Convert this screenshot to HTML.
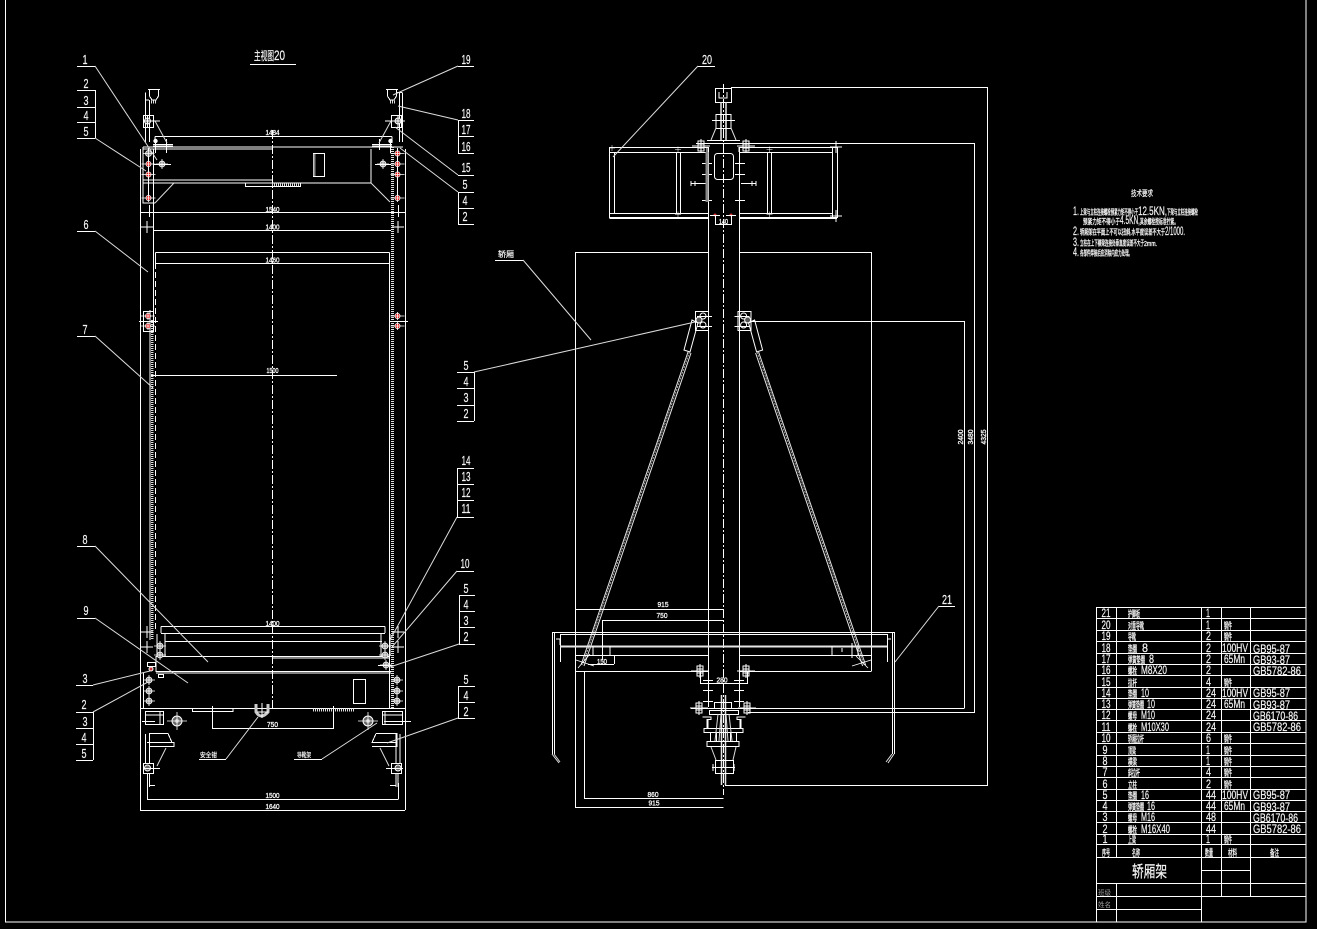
<!DOCTYPE html>
<html><head><meta charset="utf-8"><style>
html,body{margin:0;padding:0;background:#000}
svg{display:block}
text{font-family:"Liberation Sans","Noto Sans CJK SC",sans-serif;fill:#f4f4f4;stroke:#f4f4f4;stroke-width:.22}
.l{stroke:#fff;stroke-width:1;fill:none;shape-rendering:crispEdges}
.d{stroke:#dcdcdc;stroke-width:1;fill:none}
.t{stroke:#e6e6e6;stroke-width:2;fill:none}
.h{stroke:#e0e0e0;stroke-width:3;fill:none;stroke-dasharray:1 1;shape-rendering:crispEdges}
.c{stroke:#fff;stroke-width:1;fill:none;stroke-dasharray:9 2 2 2;shape-rendering:crispEdges}
.n{font-size:13px;text-anchor:middle}
.s{font-size:7.5px;text-anchor:middle;stroke-width:.35}
.z{font-size:7.5px;stroke-width:.35}
.r{font-size:12px}
.m{font-size:12px;text-anchor:middle}
.k{font-size:9px;stroke-width:.35}
</style></head><body>
<svg width="1317" height="929" viewBox="0 0 1317 929" xmlns="http://www.w3.org/2000/svg">
<defs>
<g id="b"><circle r="3" fill="#888" stroke="#fff" stroke-width=".8"/><path d="M-6 0H6M0-5V5" stroke="#fff" stroke-width=".8"/></g>
<g id="rb"><circle r="2.6" fill="#e01010" stroke="#fff" stroke-width=".7"/><path d="M-7 0H7M0-4V4" stroke="#fff" stroke-width=".8"/></g>
<g id="w"><circle r="5" fill="#666" stroke="#fff"/><circle r="2" fill="#bbb"/><path d="M-10 0H10M0-9V9" stroke="#fff" stroke-width=".8"/></g>
<path id="x" d="M-6 0H6M0-6V6" stroke="#fff" stroke-width="1"/>
<g id="bv"><rect x="-3" y="-5" width="6" height="10" fill="none" stroke="#fff"/><path d="M-9 0H9M-3-2H3M-3 2H3M0-7V7" stroke="#fff" stroke-width="1"/></g>
</defs>
<rect width="1317" height="929" fill="#000"/>

<!-- outer frame -->
<path class="l" d="M5.5 0V922H1306V0" style="stroke-width:1.2"/>

<!-- ===== left view ===== -->
<path class="l" d="M140.5 149V810M405.5 149V810M153.5 149V320M389.5 263V708"/>
<path class="l" d="M143 147H403M143 149H272M143 180H272M143 183H371M143 147V203H155M371 149V183"/>
<path class="l" d="M155 136.5H392M155 136.5V143M392 136.5V143"/>
<path class="l" d="M140 212.5H405M153 230.5H391"/>
<path class="l" d="M155.500 252.500H389.500M155.500 252.500V263.500M389.500 252.500V263.500M155.500 263.500H389.500"/>
<path class="c" d="M272.500 130V708"/>
<path class="c" d="M155.500 263V632" style="stroke-dasharray:6 3"/>
<rect class="l" x="313.500" y="153.500" width="11" height="23"/>
<path class="t" d="M314.500 154V176" style="stroke:#888"/>
<path class="l" d="M245.500 182.500V186.500H300.500V183"/>
<path class="h" d="M272 184.500H300"/>
<path class="h" d="M392.500 147V708"/>
<path class="h" d="M152 320V640" style="stroke-width:2.500"/>
<path class="l" d="M150 310V640"/>
<path class="d" d="M155 203L174 183M371 183L390 202"/>

<!-- top left bracket -->
<path class="l" d="M148 89.500H160M149.500 89.500V96L152 100H156L158.500 96V89.500M145.500 92.500V100H149M145.500 100V142M149.500 100V142"/>
<path class="h" d="M151 102H157" />
<rect class="l" x="143.500" y="115.500" width="10" height="12"/>
<circle cx="147.500" cy="121" r="3" fill="#666" stroke="#fff"/>
<path class="l" d="M143 121H160M147.500 115V127M153 144.500H173M153 146H173M155.500 141V153M166.500 139V153"/>
<circle cx="155.500" cy="141" r="2.200" fill="#fff"/>
<path class="d" d="M155 121L167 143"/>
<!-- top right bracket -->
<path class="l" d="M386 89.500H398M387.500 89.500V96L390 100H394L396.500 96V89.500M402 92.500H396M399.500 92.500V142M402.500 92.500V142"/>
<path class="h" d="M390 102H396"/>
<rect class="l" x="391.500" y="115.500" width="10" height="12"/>
<circle cx="398" cy="121" r="3" fill="#666" stroke="#fff"/>
<path class="l" d="M385 121H405M398 115V127M372 144.500H392M372 146H392M379.500 139V150M390.500 141V153"/>
<circle cx="390.500" cy="141" r="2.200" fill="#fff"/>
<path class="d" d="M391 121L379 143"/>
<!-- upper bolts -->
<path class="l" d="M148.500 148V200"/>
<use href="#b" x="148.500" y="153.500"/>
<use href="#rb" x="148.500" y="164"/><use href="#rb" x="148.500" y="174.500"/><use href="#rb" x="148.500" y="198"/>
<use href="#b" x="162" y="164"/><path class="l" d="M153 164.500H171"/>
<use href="#b" x="383" y="164"/><path class="l" d="M375 164.500H391"/>
<path class="l" d="M397.500 148V200"/>
<use href="#rb" x="397.500" y="153.500"/><use href="#rb" x="397.500" y="164"/><use href="#rb" x="397.500" y="174.500"/><use href="#rb" x="397.500" y="198"/>
<path class="l" d="M149.500 205V217M398.500 205V217"/>
<use href="#x" x="147" y="227"/><use href="#x" x="398" y="227"/>
<!-- mid bolts -->
<rect class="l" x="143.500" y="311.500" width="10" height="20"/>
<path class="l" d="M139 321.500H158M390 321.500H408M151 375.500H337"/>
<use href="#rb" x="148" y="316"/><use href="#rb" x="148" y="326"/>
<use href="#rb" x="397.500" y="316"/><use href="#rb" x="397.500" y="326"/>

<!-- lower car beams -->
<path class="l" d="M161 626.500H385M161 626.500V633M385 626.500V633M161 633.500H385M165 641.500H382M157 634V656M165 634V656M381 634V656M390 634V656"/>
<path class="l" d="M156 656.500H390M272 658H390M156 671.500H391M156 673H391M156 656V672"/>
<path class="l" d="M140 708.500H405M143.500 673V708"/>
<rect class="l" x="353.500" y="679.500" width="12" height="24"/>
<path class="l" d="M192.500 708V711.500H233V708"/>
<path class="h" d="M313 710H354"/>
<path class="l" d="M212.500 706V728.500H333.500V706"/>
<use href="#b" x="160" y="646"/><use href="#b" x="160" y="655"/><use href="#b" x="385" y="646"/><use href="#b" x="385" y="655"/>
<use href="#x" x="147" y="632"/><use href="#x" x="147" y="647"/><use href="#x" x="398" y="632"/><use href="#x" x="398" y="647"/>
<rect class="l" x="147.500" y="662.500" width="8" height="4"/>
<rect class="l" x="158.500" y="674.500" width="5" height="3"/>
<circle cx="151" cy="669" r="2" fill="#c33" stroke="#fff"/>
<use href="#b" x="386" y="665"/>
<path class="l" d="M378 665.500H394"/>
<use href="#b" x="149" y="680"/><use href="#b" x="149" y="691"/><use href="#b" x="149" y="701"/>
<use href="#b" x="397" y="680"/><use href="#b" x="397" y="691"/><use href="#b" x="397" y="701"/>
<!-- center U -->
<path d="M256 704V712Q261 720 268 712V704" fill="none" stroke="#ccc" stroke-width="3"/>
<path class="l" d="M262 703V718M257 712H268"/>
<use href="#w" x="177" y="721"/><use href="#w" x="368" y="721"/>
<!-- lower brackets -->
<path class="l" d="M145.500 711.500H163.500V724.500H145.500ZM145 715H163M160 712V724M382.500 711.500H402.500V724.500H382.500ZM382 715H402M385 712V724"/>
<path class="l" d="M142 721.500H155M384 721.500H411"/>
<path class="l" d="M145.500 734V763M149.500 734V763M149 733.500H168L172 742.500H149M147 742.500H174V746.500H149M396 734V763M400 734V763M376 733.500H397V742.500H372L376 733.500M372 742.500H397V746.500H372"/>
<rect class="l" x="143.500" y="763.500" width="10" height="10"/>
<rect class="l" x="391.500" y="763.500" width="10" height="10"/>
<circle cx="147.500" cy="768" r="3" fill="#666" stroke="#fff"/><circle cx="398" cy="768" r="3" fill="#666" stroke="#fff"/>
<path class="l" d="M143 768.500H160M386 768.500H403M147.500 773V787M149.500 773V787M149 785.500H155M396 773V787M398 773V787M390 785.500H396"/>
<path class="d" d="M166 748L157 766M380 748L389 766"/>
<path class="l" d="M147.500 783V799.500M398.500 783V799.500M147 799.500H398M140 810.500H405"/>

<!-- left view text -->
<text x="254" y="60" font-size="12" textLength="20" lengthAdjust="spacingAndGlyphs">主视图</text>
<text x="274" y="60" font-size="14" textLength="11" lengthAdjust="spacingAndGlyphs">20</text>
<path class="l" d="M250 64.500H296"/>
<text class="s" x="272.500" y="135" textLength="14" lengthAdjust="spacingAndGlyphs">1484</text>
<text class="s" x="272.500" y="212" textLength="14" lengthAdjust="spacingAndGlyphs">1540</text>
<text class="s" x="272.500" y="229.500" textLength="14" lengthAdjust="spacingAndGlyphs">1400</text>
<text class="s" x="272.500" y="262.500" textLength="14" lengthAdjust="spacingAndGlyphs">1460</text>
<text class="s" x="272.500" y="373" textLength="12" lengthAdjust="spacingAndGlyphs">1500</text>
<text class="s" x="272.500" y="626" textLength="14" lengthAdjust="spacingAndGlyphs">1400</text>
<text class="s" x="272.500" y="727" textLength="11" lengthAdjust="spacingAndGlyphs">750</text>
<text class="s" x="272.500" y="798" textLength="14" lengthAdjust="spacingAndGlyphs">1500</text>
<text class="s" x="272.500" y="809" textLength="14" lengthAdjust="spacingAndGlyphs">1640</text>
<text x="200" y="757" font-size="6.500" textLength="17" lengthAdjust="spacingAndGlyphs">安全钳</text>
<text x="297" y="757" font-size="6.500" textLength="14" lengthAdjust="spacingAndGlyphs">导靴架</text>

<!-- left leaders -->
<path class="l" d="M77 66.500H95M77 90.500H95M77 107.500H95M77 122.500H95M77 138.500H95M95.500 90V138M77 231.500H95M77 336.500H95M77 546.500H95M77 618.500H95M76 685.500H93M76 712.500H93M76 728.500H93M76 744.500H93M76 760.500H93M93.500 712V760"/>
<path class="d" d="M95 66L157 160M95 138L146 171M95 231L148 272M95 336L153 388M95 546L208 662M95 618L188 683M93 685L150 671M93 712L148 682"/>
<text class="n" x="85" y="64" textLength="5" lengthAdjust="spacingAndGlyphs">1</text>
<text class="n" x="86" y="88" textLength="5" lengthAdjust="spacingAndGlyphs">2</text>
<text class="n" x="86" y="105" textLength="5" lengthAdjust="spacingAndGlyphs">3</text>
<text class="n" x="86" y="120" textLength="5" lengthAdjust="spacingAndGlyphs">4</text>
<text class="n" x="86" y="136" textLength="5" lengthAdjust="spacingAndGlyphs">5</text>
<text class="n" x="86" y="229" textLength="5" lengthAdjust="spacingAndGlyphs">6</text>
<text class="n" x="85" y="334" textLength="5" lengthAdjust="spacingAndGlyphs">7</text>
<text class="n" x="85" y="544" textLength="5" lengthAdjust="spacingAndGlyphs">8</text>
<text class="n" x="86" y="615" textLength="5" lengthAdjust="spacingAndGlyphs">9</text>
<text class="n" x="85" y="683" textLength="5" lengthAdjust="spacingAndGlyphs">3</text>
<text class="n" x="84" y="709" textLength="5" lengthAdjust="spacingAndGlyphs">2</text>
<text class="n" x="85" y="726" textLength="5" lengthAdjust="spacingAndGlyphs">3</text>
<text class="n" x="84" y="742" textLength="5" lengthAdjust="spacingAndGlyphs">4</text>
<text class="n" x="84" y="758" textLength="5" lengthAdjust="spacingAndGlyphs">5</text>

<!-- right leaders of left view -->
<path class="l" d="M458 66.500H474M458 120.500H474M458 136.500H474M458 153.500H474M458.500 120V153M458 175.500H474M458 192.500H474M458 208.500H474M458 224.500H474M458.500 192V224"/>
<path class="l" d="M457 468.500H474M457 484.500H474M457 500.500H474M457 517.500H474M457.500 468V517M457 571.500H474M459 595.500H475M459 611.500H475M459 627.500H475M459 644.500H475M459.500 595V644M458 686.500H475M458 702.500H475M458 718.500H475M458.500 686V718"/>
<path class="d" d="M458 66L393 95M458 120L398 106M458 175L395 127M458 192L400 148M457 517L390 640M457 571L392 647M459 644L390 667M458 718L387 743"/>
<text class="n" x="466" y="64" textLength="9" lengthAdjust="spacingAndGlyphs">19</text>
<text class="n" x="466" y="118" textLength="9" lengthAdjust="spacingAndGlyphs">18</text>
<text class="n" x="466" y="134" textLength="9" lengthAdjust="spacingAndGlyphs">17</text>
<text class="n" x="466" y="151" textLength="9" lengthAdjust="spacingAndGlyphs">16</text>
<text class="n" x="466" y="172" textLength="9" lengthAdjust="spacingAndGlyphs">15</text>
<text class="n" x="465" y="189" textLength="5" lengthAdjust="spacingAndGlyphs">5</text>
<text class="n" x="465" y="205" textLength="5" lengthAdjust="spacingAndGlyphs">4</text>
<text class="n" x="465" y="221" textLength="5" lengthAdjust="spacingAndGlyphs">2</text>
<text class="n" x="466" y="465" textLength="9" lengthAdjust="spacingAndGlyphs">14</text>
<text class="n" x="466" y="481" textLength="9" lengthAdjust="spacingAndGlyphs">13</text>
<text class="n" x="466" y="497" textLength="9" lengthAdjust="spacingAndGlyphs">12</text>
<text class="n" x="466" y="513" textLength="9" lengthAdjust="spacingAndGlyphs">11</text>
<text class="n" x="465" y="568" textLength="9" lengthAdjust="spacingAndGlyphs">10</text>
<text class="n" x="466" y="593" textLength="5" lengthAdjust="spacingAndGlyphs">5</text>
<text class="n" x="466" y="609" textLength="5" lengthAdjust="spacingAndGlyphs">4</text>
<text class="n" x="466" y="625" textLength="5" lengthAdjust="spacingAndGlyphs">3</text>
<text class="n" x="466" y="641" textLength="5" lengthAdjust="spacingAndGlyphs">2</text>
<text class="n" x="466" y="684" textLength="5" lengthAdjust="spacingAndGlyphs">5</text>
<text class="n" x="466" y="700" textLength="5" lengthAdjust="spacingAndGlyphs">4</text>
<text class="n" x="466" y="716" textLength="5" lengthAdjust="spacingAndGlyphs">2</text>

<!-- leaders under the centre labels -->
<path class="l" d="M199 759.500H226M294 759.500H322"/>
<path class="d" d="M226 759L258 717M322 759L377 723"/>

<!-- ===== right view ===== -->
<path class="l" d="M708.500 147V707M739.500 147V707M715.500 88.500H731.500V102.500H715.500ZM731 87.500H987.500V785"/>
<path class="c" d="M723.500 84V795"/>
<path class="t" d="M721 102V140M726 102V140" style="stroke-width:1.500"/>
<path class="l" d="M719 92V98H727V92M716 114.500H731V128.500H716ZM712 120.500H735M721 114V128M726 114V128"/>
<path class="d" d="M716 128L711 140M731 128L736 140"/>
<path class="l" d="M707 140.500H740M696 143.500H751M751 143.500H974.500V712M707 147V152M739 147V152"/>
<path class="l" d="M609.500 147.500H708M739 147.500H837M609.500 152.500H708M739 152.500H832M609.500 213.500H708M739 213.500H832M609.500 218.500H708M739 218.500H837M609.500 217.500H708M739 217.500H837M609.500 147V218M614.500 152V213M676.500 152V213M680.500 152V213M767.500 152V213M771.500 152V213M832.500 147V218M837.500 147V218"/>
<use href="#x" x="612" y="148" transform="translate(306 74) scale(.5)"/><use href="#x" x="836" y="147"/><use href="#x" x="836" y="216"/>
<use href="#x" x="678" y="149" transform="translate(339 75) scale(.5)"/><use href="#x" x="678" y="215" transform="translate(339 107) scale(.5)"/>
<use href="#x" x="769" y="149" transform="translate(385 75) scale(.5)"/><use href="#x" x="769" y="215" transform="translate(385 107) scale(.5)"/>
<use href="#bv" x="701" y="146"/><use href="#bv" x="746" y="146"/>
<rect x="714.500" y="153.500" width="19" height="26" rx="3" fill="none" stroke="#fff"/>
<path class="l" d="M691 183.500H707M741 183.500H756M691 181V186M695 181V186M752 181V186M756 181V186M702 163.500H712M702 174.500H712M702 200.500H712M735 163.500H745M735 174.500H745M735 200.500H745"/>
<path class="t" d="M707 152V202" style="stroke:#888;stroke-width:3"/>
<circle cx="715" cy="215" r="1.500" fill="#d33"/><circle cx="731" cy="215" r="1.500" fill="#d33"/>
<path class="l" d="M710 215.500H720M726 215.500H736M715.500 215V224.500H731.500V215"/>
<text class="s" x="723.500" y="224" textLength="9" lengthAdjust="spacingAndGlyphs">140</text>

<!-- car outline -->
<path class="l" d="M575.500 807V252.500H708M739 252.500H871.500V671"/>
<!-- brackets and rods -->
<g id="rod">
<rect class="l" x="695.500" y="311.500" width="13" height="19"/>
<path class="l" d="M697 316.500H712M697 326.500H712"/>
<circle cx="703" cy="316" r="3" fill="none" stroke="#fff"/><circle cx="703" cy="325" r="3" fill="none" stroke="#fff"/>
<circle cx="699" cy="320" r="3" fill="#555" stroke="#fff"/>
<path d="M692 320L698 323L690 352L684 350Z" fill="none" stroke="#fff"/>
<path d="M688 352L581 665M691 353L584 666" stroke="#e6e6e6" stroke-width="1" fill="none"/>
<path d="M689.500 352L582.500 665" stroke="#aaa" stroke-width="1" stroke-dasharray="2 1" fill="none"/>
</g>
<g transform="translate(1446.600 0) scale(-1 1)">
<rect class="l" x="695.500" y="311.500" width="13" height="19"/>
<path class="l" d="M697 316.500H712M697 326.500H712"/>
<circle cx="703" cy="316" r="3" fill="none" stroke="#fff"/><circle cx="703" cy="325" r="3" fill="none" stroke="#fff"/>
<circle cx="699" cy="320" r="3" fill="#555" stroke="#fff"/>
<path d="M692 320L698 323L690 352L684 350Z" fill="none" stroke="#fff"/>
<path d="M688 352L581 665M691 353L584 666" stroke="#e6e6e6" stroke-width="1" fill="none"/>
<path d="M689.500 352L582.500 665" stroke="#aaa" stroke-width="1" stroke-dasharray="2 1" fill="none"/>
</g>
<path class="l" d="M751 321.500H964.500V708"/>

<!-- floor beam -->
<path class="l" d="M552 632.500H894M560 634.500H887M552.500 632V754M554.500 632V754M892.500 632V754M894.500 632V754M560.500 634V662M887.500 634V662M556 639H560V645M887 639H891"/>
<path class="d" d="M552 754L559 763M554 754L560 762M894 754L888 763M892 754L886 762"/>
<path class="t" d="M560 646.500H887"/>
<path class="l" d="M575.500 655.500H708M739 655.500H871.500M575.500 671.500H708M739 671.500H871.500M575.500 655V671"/>
<path class="l" d="M575 609.500H723.500M602.500 620.500H723.500M602.500 620V660M588 664.500H614M614.500 655V664M593 646V655M610 646V655M832 646V655M852 643V658M858 646V655M842 648V652"/>
<path class="l" d="M584.500 671V798.500H723.500M575 807.500H723.500"/>
<path class="l" d="M700.500 671V683.500H747.500V671"/>
<path class="l" d="M703 680.500H713M734 680.500H744M703 690.500H713M734 690.500H744M703 701.500H713M734 701.500H744"/>
<g stroke="#fff" fill="none"><path d="M576 660L594 666M590 654L578 668" stroke-width=".8"/><path d="M852 666L871 660M856 656L868 668" stroke-width=".8"/></g>
<use href="#bv" x="700" y="671"/><use href="#bv" x="746" y="671"/><use href="#bv" x="699" y="708"/><use href="#bv" x="747" y="708"/>
<path class="l" d="M691 708.500H964.500M748 712.500H975"/>
<path class="t" d="M721.500 695V785M725.500 695V785" style="stroke-width:1.500"/>
<path class="l" d="M725 785.500H988"/>
<!-- lower pulley assembly -->
<path class="l" d="M714.500 702.500H731.500V708.500H714.500ZM709.500 710.500H738.500V714.500H709.500ZM702.500 717H711V719.500H707V728M745.500 717H737V719.500H741V728M704 728.500H743V732.500H704ZM710.500 732V741M716.500 732V741M730.500 732V741M736.500 732V741M707 741.500H739V746.500H707Z"/>
<path class="l" d="M708 719.500V728M740 719.500V728"/>
<path class="d" d="M718 714L715 741M729 714L732 741M721 714L719 741M726 714L728 741M711 747L716 760M736 747L733 760"/>
<rect class="l" x="715.500" y="760.500" width="18" height="13"/>
<path class="l" d="M712 767.500H735M713 764V771M734 764V771"/>

<!-- right view text -->
<text class="s" x="663" y="607" textLength="11" lengthAdjust="spacingAndGlyphs">915</text>
<text class="s" x="662" y="618" textLength="11" lengthAdjust="spacingAndGlyphs">750</text>
<text class="s" x="602" y="664" textLength="10" lengthAdjust="spacingAndGlyphs">150</text>
<text class="s" x="722" y="682.500" textLength="11" lengthAdjust="spacingAndGlyphs">280</text>
<text class="s" x="653" y="797" textLength="11" lengthAdjust="spacingAndGlyphs">860</text>
<text class="s" x="654" y="805.500" textLength="11" lengthAdjust="spacingAndGlyphs">915</text>
<text class="s" transform="translate(963 437) rotate(-90)" textLength="15" lengthAdjust="spacingAndGlyphs">2400</text>
<text class="s" transform="translate(973 437) rotate(-90)" textLength="15" lengthAdjust="spacingAndGlyphs">3480</text>
<text class="s" transform="translate(986 437) rotate(-90)" textLength="15" lengthAdjust="spacingAndGlyphs">4325</text>

<path class="l" d="M698 66.500H715M495 260.500H523M939 606.500H955M457 372.500H474M457 388.500H474M457 405.500H474M457 421.500H474M474.500 372V421"/>
<path class="d" d="M698 66L613 157M523 260L591 340M474 372L695 322M939 606L895 662"/>
<text class="n" x="707" y="64" textLength="10" lengthAdjust="spacingAndGlyphs">20</text>
<text class="n" x="947" y="604" textLength="10" lengthAdjust="spacingAndGlyphs">21</text>
<text class="n" x="466" y="370" textLength="5" lengthAdjust="spacingAndGlyphs">5</text>
<text class="n" x="466" y="386" textLength="5" lengthAdjust="spacingAndGlyphs">4</text>
<text class="n" x="466" y="402" textLength="5" lengthAdjust="spacingAndGlyphs">3</text>
<text class="n" x="466" y="418" textLength="5" lengthAdjust="spacingAndGlyphs">2</text>
<text x="498" y="257" font-size="8" textLength="16" lengthAdjust="spacingAndGlyphs">轿厢</text>

<!-- technical notes -->
<text x="1131" y="196" font-size="8" textLength="22" lengthAdjust="spacingAndGlyphs">技术要求</text>
<text class="r" x="1073" y="215" textLength="6" lengthAdjust="spacingAndGlyphs">1.</text>
<text class="z" x="1080" y="214.500" textLength="58" lengthAdjust="spacingAndGlyphs">上梁与立柱连接螺栓预紧力矩不得小于</text>
<text class="r" x="1138" y="215" textLength="29" lengthAdjust="spacingAndGlyphs">12.5KN,</text>
<text class="z" x="1167" y="214.500" textLength="31" lengthAdjust="spacingAndGlyphs">下梁与立柱连接螺栓</text>
<text class="z" x="1083" y="224" textLength="37" lengthAdjust="spacingAndGlyphs">预紧力矩不得小于</text>
<text class="r" x="1120" y="224" textLength="20" lengthAdjust="spacingAndGlyphs">4.5KN,</text>
<text class="z" x="1140" y="224" textLength="38" lengthAdjust="spacingAndGlyphs">其余螺栓按标准拧紧。</text>
<text class="r" x="1073" y="235" textLength="6" lengthAdjust="spacingAndGlyphs">2.</text>
<text class="z" x="1080" y="234.500" textLength="85" lengthAdjust="spacingAndGlyphs">轿厢架在平面上不可以扭斜,水平度误差不大于</text>
<text class="r" x="1165" y="235" textLength="20" lengthAdjust="spacingAndGlyphs">2/1000.</text>
<text class="r" x="1073" y="246" textLength="6" lengthAdjust="spacingAndGlyphs">3.</text>
<text class="z" x="1080" y="245.500" textLength="64" lengthAdjust="spacingAndGlyphs">立柱在上下横梁连接处垂直度误差不大于</text>
<text class="z" x="1144" y="246" font-size="9" textLength="13" lengthAdjust="spacingAndGlyphs">2mm.</text>
<text class="r" x="1073" y="256" textLength="6" lengthAdjust="spacingAndGlyphs">4.</text>
<text class="z" x="1080" y="255.500" textLength="52" lengthAdjust="spacingAndGlyphs">各部件焊接后应消除内应力处理。</text>

<!-- ===== parts table ===== -->
<path class="l" d="M1096 607.500H1306M1096 618.500H1306M1096 630.500H1306M1096 641.500H1306M1096 653.500H1306M1096 664.500H1306M1096 675.500H1306M1096 687.500H1306M1096 698.500H1306M1096 709.500H1306M1096 720.500H1306M1096 732.500H1306M1096 743.500H1306M1096 755.500H1306M1096 766.500H1306M1096 777.500H1306M1096 789.500H1306M1096 800.500H1306M1096 811.500H1306M1096 822.500H1306M1096 834.500H1306M1096 844.500H1306M1096 857.500H1306M1201 870.500H1250M1096 883.500H1306M1096 896.500H1306M1096 909.500H1201"/>
<path class="l" d="M1096.500 607V922M1116.500 607V857M1116.500 883V922M1201.500 607V922M1221.500 607V896M1250.500 607V896"/>
<g>
<text class="m" x="1106" y="617" textLength="9" lengthAdjust="spacingAndGlyphs">21</text>
<text class="m" x="1106" y="629" textLength="9" lengthAdjust="spacingAndGlyphs">20</text>
<text class="m" x="1106" y="640" textLength="9" lengthAdjust="spacingAndGlyphs">19</text>
<text class="m" x="1106" y="652" textLength="9" lengthAdjust="spacingAndGlyphs">18</text>
<text class="m" x="1106" y="663" textLength="9" lengthAdjust="spacingAndGlyphs">17</text>
<text class="m" x="1106" y="674" textLength="9" lengthAdjust="spacingAndGlyphs">16</text>
<text class="m" x="1106" y="686" textLength="9" lengthAdjust="spacingAndGlyphs">15</text>
<text class="m" x="1106" y="697" textLength="9" lengthAdjust="spacingAndGlyphs">14</text>
<text class="m" x="1106" y="708" textLength="9" lengthAdjust="spacingAndGlyphs">13</text>
<text class="m" x="1106" y="719" textLength="9" lengthAdjust="spacingAndGlyphs">12</text>
<text class="m" x="1106" y="731" textLength="9" lengthAdjust="spacingAndGlyphs">11</text>
<text class="m" x="1106" y="742" textLength="9" lengthAdjust="spacingAndGlyphs">10</text>
<text class="m" x="1105" y="754" textLength="5" lengthAdjust="spacingAndGlyphs">9</text>
<text class="m" x="1105" y="765" textLength="5" lengthAdjust="spacingAndGlyphs">8</text>
<text class="m" x="1105" y="776" textLength="5" lengthAdjust="spacingAndGlyphs">7</text>
<text class="m" x="1105" y="788" textLength="5" lengthAdjust="spacingAndGlyphs">6</text>
<text class="m" x="1105" y="799" textLength="5" lengthAdjust="spacingAndGlyphs">5</text>
<text class="m" x="1105" y="810" textLength="5" lengthAdjust="spacingAndGlyphs">4</text>
<text class="m" x="1105" y="821" textLength="5" lengthAdjust="spacingAndGlyphs">3</text>
<text class="m" x="1105" y="833" textLength="5" lengthAdjust="spacingAndGlyphs">2</text>
<text class="m" x="1105" y="843" textLength="5" lengthAdjust="spacingAndGlyphs">1</text>
</g>
<g>
<text class="k" x="1128" y="617" textLength="12" lengthAdjust="spacingAndGlyphs">护脚板</text>
<text class="k" x="1128" y="629" textLength="16" lengthAdjust="spacingAndGlyphs">对重导靴</text>
<text class="k" x="1128" y="640" textLength="8" lengthAdjust="spacingAndGlyphs">导靴</text>
<text class="k" x="1128" y="652" textLength="9" lengthAdjust="spacingAndGlyphs">垫圈</text><text class="r" x="1142" y="652" textLength="6" lengthAdjust="spacingAndGlyphs">8</text>
<text class="k" x="1128" y="663" textLength="17" lengthAdjust="spacingAndGlyphs">弹簧垫圈</text><text class="r" x="1149" y="663" textLength="5" lengthAdjust="spacingAndGlyphs">8</text>
<text class="k" x="1128" y="674" textLength="9" lengthAdjust="spacingAndGlyphs">螺栓</text><text class="r" x="1141" y="674" textLength="26" lengthAdjust="spacingAndGlyphs">M8X20</text>
<text class="k" x="1128" y="686" textLength="9" lengthAdjust="spacingAndGlyphs">拉杆</text>
<text class="k" x="1128" y="697" textLength="9" lengthAdjust="spacingAndGlyphs">垫圈</text><text class="r" x="1141" y="697" textLength="8" lengthAdjust="spacingAndGlyphs">10</text>
<text class="k" x="1128" y="708" textLength="16" lengthAdjust="spacingAndGlyphs">弹簧垫圈</text><text class="r" x="1147" y="708" textLength="8" lengthAdjust="spacingAndGlyphs">10</text>
<text class="k" x="1128" y="719" textLength="9" lengthAdjust="spacingAndGlyphs">螺母</text><text class="r" x="1141" y="719" textLength="14" lengthAdjust="spacingAndGlyphs">M10</text>
<text class="k" x="1128" y="731" textLength="9" lengthAdjust="spacingAndGlyphs">螺栓</text><text class="r" x="1141" y="731" textLength="28" lengthAdjust="spacingAndGlyphs">M10X30</text>
<text class="k" x="1128" y="742" textLength="16" lengthAdjust="spacingAndGlyphs">轿厢拉杆</text>
<text class="k" x="1128" y="754" textLength="8" lengthAdjust="spacingAndGlyphs">顶梁</text>
<text class="k" x="1128" y="765" textLength="9" lengthAdjust="spacingAndGlyphs">横梁</text>
<text class="k" x="1128" y="776" textLength="12" lengthAdjust="spacingAndGlyphs">斜拉杆</text>
<text class="k" x="1128" y="788" textLength="9" lengthAdjust="spacingAndGlyphs">立柱</text>
<text class="k" x="1128" y="799" textLength="9" lengthAdjust="spacingAndGlyphs">垫圈</text><text class="r" x="1141" y="799" textLength="8" lengthAdjust="spacingAndGlyphs">16</text>
<text class="k" x="1128" y="810" textLength="16" lengthAdjust="spacingAndGlyphs">弹簧垫圈</text><text class="r" x="1147" y="810" textLength="8" lengthAdjust="spacingAndGlyphs">16</text>
<text class="k" x="1128" y="821" textLength="9" lengthAdjust="spacingAndGlyphs">螺母</text><text class="r" x="1141" y="821" textLength="14" lengthAdjust="spacingAndGlyphs">M16</text>
<text class="k" x="1128" y="833" textLength="9" lengthAdjust="spacingAndGlyphs">螺栓</text><text class="r" x="1141" y="833" textLength="29" lengthAdjust="spacingAndGlyphs">M16X40</text>
<text class="k" x="1128" y="843" textLength="8" lengthAdjust="spacingAndGlyphs">上梁</text>
</g>
<g>
<text class="r" x="1206" y="617" textLength="4" lengthAdjust="spacingAndGlyphs">1</text>
<text class="r" x="1206" y="629" textLength="4" lengthAdjust="spacingAndGlyphs">1</text>
<text class="r" x="1206" y="640" textLength="5" lengthAdjust="spacingAndGlyphs">2</text>
<text class="r" x="1206" y="652" textLength="5" lengthAdjust="spacingAndGlyphs">2</text>
<text class="r" x="1206" y="663" textLength="5" lengthAdjust="spacingAndGlyphs">2</text>
<text class="r" x="1206" y="674" textLength="5" lengthAdjust="spacingAndGlyphs">2</text>
<text class="r" x="1206" y="686" textLength="5" lengthAdjust="spacingAndGlyphs">4</text>
<text class="r" x="1206" y="697" textLength="10" lengthAdjust="spacingAndGlyphs">24</text>
<text class="r" x="1206" y="708" textLength="10" lengthAdjust="spacingAndGlyphs">24</text>
<text class="r" x="1206" y="719" textLength="10" lengthAdjust="spacingAndGlyphs">24</text>
<text class="r" x="1206" y="731" textLength="10" lengthAdjust="spacingAndGlyphs">24</text>
<text class="r" x="1206" y="742" textLength="5" lengthAdjust="spacingAndGlyphs">6</text>
<text class="r" x="1206" y="754" textLength="4" lengthAdjust="spacingAndGlyphs">1</text>
<text class="r" x="1206" y="765" textLength="4" lengthAdjust="spacingAndGlyphs">1</text>
<text class="r" x="1206" y="776" textLength="5" lengthAdjust="spacingAndGlyphs">4</text>
<text class="r" x="1206" y="788" textLength="5" lengthAdjust="spacingAndGlyphs">2</text>
<text class="r" x="1206" y="799" textLength="10" lengthAdjust="spacingAndGlyphs">44</text>
<text class="r" x="1206" y="810" textLength="10" lengthAdjust="spacingAndGlyphs">44</text>
<text class="r" x="1206" y="821" textLength="10" lengthAdjust="spacingAndGlyphs">48</text>
<text class="r" x="1206" y="833" textLength="10" lengthAdjust="spacingAndGlyphs">44</text>
<text class="r" x="1206" y="843" textLength="4" lengthAdjust="spacingAndGlyphs">1</text>
</g>
<g>
<text class="k" x="1224" y="629" textLength="8" lengthAdjust="spacingAndGlyphs">钢件</text>
<text class="k" x="1224" y="640" textLength="8" lengthAdjust="spacingAndGlyphs">钢件</text>
<text class="r" x="1222" y="652" textLength="26" lengthAdjust="spacingAndGlyphs">100HV</text>
<text class="r" x="1224" y="663" textLength="21" lengthAdjust="spacingAndGlyphs">65Mn</text>
<text class="k" x="1224" y="686" textLength="8" lengthAdjust="spacingAndGlyphs">钢件</text>
<text class="r" x="1222" y="697" textLength="26" lengthAdjust="spacingAndGlyphs">100HV</text>
<text class="r" x="1224" y="708" textLength="21" lengthAdjust="spacingAndGlyphs">65Mn</text>
<text class="k" x="1224" y="742" textLength="8" lengthAdjust="spacingAndGlyphs">钢件</text>
<text class="k" x="1224" y="754" textLength="8" lengthAdjust="spacingAndGlyphs">钢件</text>
<text class="k" x="1224" y="765" textLength="8" lengthAdjust="spacingAndGlyphs">钢件</text>
<text class="k" x="1224" y="776" textLength="8" lengthAdjust="spacingAndGlyphs">钢件</text>
<text class="k" x="1224" y="788" textLength="8" lengthAdjust="spacingAndGlyphs">钢件</text>
<text class="r" x="1222" y="799" textLength="26" lengthAdjust="spacingAndGlyphs">100HV</text>
<text class="r" x="1224" y="810" textLength="21" lengthAdjust="spacingAndGlyphs">65Mn</text>
<text class="k" x="1224" y="843" textLength="8" lengthAdjust="spacingAndGlyphs">钢件</text>
</g>
<g>
<text class="r" x="1253" y="653" textLength="37" lengthAdjust="spacingAndGlyphs">GB95-87</text>
<text class="r" x="1253" y="664" textLength="37" lengthAdjust="spacingAndGlyphs">GB93-87</text>
<text class="r" x="1253" y="675" textLength="48" lengthAdjust="spacingAndGlyphs">GB5782-86</text>
<text class="r" x="1253" y="697" textLength="37" lengthAdjust="spacingAndGlyphs">GB95-87</text>
<text class="r" x="1253" y="709" textLength="37" lengthAdjust="spacingAndGlyphs">GB93-87</text>
<text class="r" x="1253" y="720" textLength="45" lengthAdjust="spacingAndGlyphs">GB6170-86</text>
<text class="r" x="1253" y="731" textLength="48" lengthAdjust="spacingAndGlyphs">GB5782-86</text>
<text class="r" x="1253" y="799" textLength="37" lengthAdjust="spacingAndGlyphs">GB95-87</text>
<text class="r" x="1253" y="811" textLength="37" lengthAdjust="spacingAndGlyphs">GB93-87</text>
<text class="r" x="1253" y="822" textLength="45" lengthAdjust="spacingAndGlyphs">GB6170-86</text>
<text class="r" x="1253" y="833" textLength="48" lengthAdjust="spacingAndGlyphs">GB5782-86</text>
</g>
<text class="k" x="1102" y="856" textLength="8" lengthAdjust="spacingAndGlyphs">序号</text>
<text class="k" x="1132" y="856" textLength="8" lengthAdjust="spacingAndGlyphs">名称</text>
<text class="k" x="1205" y="856" textLength="8" lengthAdjust="spacingAndGlyphs">数量</text>
<text class="k" x="1228" y="856" textLength="9" lengthAdjust="spacingAndGlyphs">材料</text>
<text class="k" x="1270" y="856" textLength="9" lengthAdjust="spacingAndGlyphs">备注</text>
<text x="1132" y="877" font-size="16" textLength="35" lengthAdjust="spacingAndGlyphs">轿厢架</text>
<text x="1098" y="895" font-size="7" style="fill:#999;stroke:none" textLength="13" lengthAdjust="spacingAndGlyphs">班级</text>
<text x="1098" y="907" font-size="7" style="fill:#999;stroke:none" textLength="13" lengthAdjust="spacingAndGlyphs">姓名</text>
</svg>
</body></html>
